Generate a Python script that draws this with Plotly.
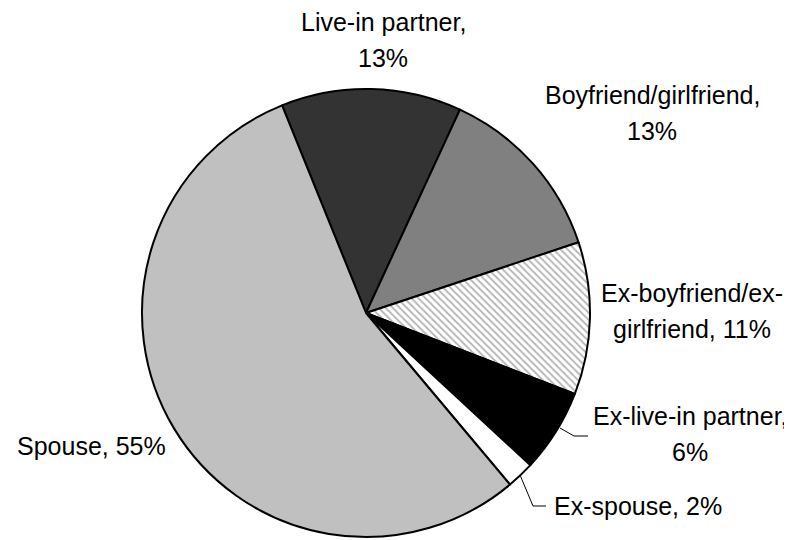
import plotly.graph_objects as go

labels = ['Live-in partner', 'Boyfriend/girlfriend', 'Ex-boyfriend/ex-girlfriend',
          'Ex-live-in partner', 'Ex-spouse', 'Spouse']
values = [13, 13, 11, 6, 2, 55]
colors = ['#333333', '#808080', '#ffffff', '#000000', '#ffffff', '#c0c0c0']
patterns = ['', '', '\\', '', '', '']

# label text, as printed next to each slice
label_text = ['Live-in partner,<br>13%', 'Boyfriend/girlfriend,<br>13%',
              'Ex-boyfriend/ex-<br>girlfriend, 11%', 'Ex-live-in partner,<br>6%',
              'Ex-spouse, 2%', 'Spouse, 55%']

W, H = 792, 540
OFF = 8          # page body margin shifts the whole figure
LINE_GAP = 36    # spacing between label lines, px

fig = go.Figure(go.Pie(
    labels=labels,
    values=values,
    sort=False,
    direction='clockwise',
    rotation=-22,
    textinfo='none',
    hoverinfo='label+percent',
    showlegend=False,
    marker=dict(
        colors=colors,
        line=dict(color='black', width=2),
        pattern=dict(shape=patterns, fgcolor='#b4b4b4', bgcolor='#ffffff',
                     size=5, solidity=0.35),
    ),
    domain=dict(x=[134 / W, 582 / W], y=[11 / H, 459 / H]),
))

# first-line position on screen (px) and horizontal anchor
label_pos = [(383, 22, 'center'), (652, 95, 'center'), (692, 293, 'center'),
             (690, 416, 'center'), (552, 506, 'left'), (15, 446, 'left')]

font = dict(family='Liberation Sans, Arial, sans-serif', size=25, color='black')

for txt, (x, y, al) in zip(label_text, label_pos):
    for i, line in enumerate(txt.split('<br>')):
        fig.add_annotation(
            x=(x - OFF) / W, y=1 - (y - OFF + i * LINE_GAP) / H,
            xref='paper', yref='paper',
            text=line, showarrow=False,
            xanchor=al, yanchor='middle', font=font,
        )

# leader lines for the two small slices
def px_path(pts):
    return 'M ' + ' L '.join(f'{(x - OFF) / W:.4f},{1 - (y - OFF) / H:.4f}' for x, y in pts)

fig.add_shape(type='path', xref='paper', yref='paper',
              path=px_path([(560, 428), (574, 436), (588, 436)]),
              line=dict(color='black', width=1))
fig.add_shape(type='path', xref='paper', yref='paper',
              path=px_path([(520, 475), (533, 506), (546, 506)]),
              line=dict(color='black', width=1))

fig.update_layout(
    width=W, height=H,
    margin=dict(l=0, r=0, t=0, b=0),
    paper_bgcolor='white',
    plot_bgcolor='white',
)

fig.write_html('out.html')
